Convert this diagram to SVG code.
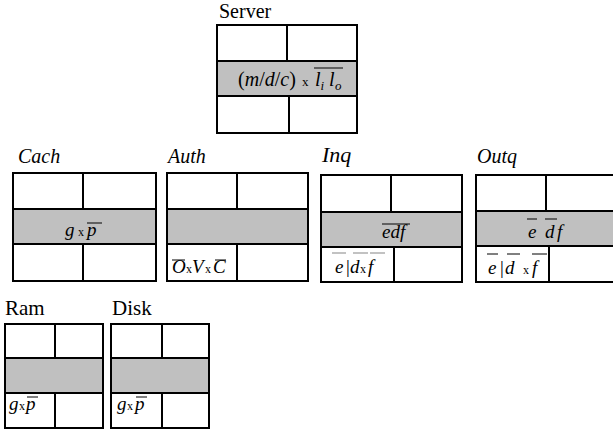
<svg xmlns="http://www.w3.org/2000/svg" width="613" height="434" viewBox="0 0 613 434" font-family="'Liberation Serif', 'Times New Roman', 'DejaVu Serif', serif">
  <style>
    .box { fill: #ffffff; stroke: #000000; stroke-width: 2; }
    .band { fill: #c0c0c0; stroke: #000000; stroke-width: 2; }
    .div { stroke: #000000; stroke-width: 2; }
    .lbl { font-size: 20px; }
    .it { font-style: italic; }
    .f { font-size: 19px; }
    .x { font-size: 12px; }
    .sub { font-size: 13px; font-style: italic; }
    .bar { stroke: #000000; stroke-width: 1; }
    .bar-g { stroke: #9a9a9a; stroke-width: 1.2; }
  </style>

  <!-- Server -->
  <g id="server">
    <text class="lbl" x="219" y="18">Server</text>
    <rect class="box" x="217" y="25" width="140" height="108"/>
    <rect class="band" x="217" y="61" width="140" height="35"/>
    <line class="div" x1="287" y1="25" x2="287" y2="61"/>
    <line class="div" x1="289" y1="96" x2="289" y2="133"/>
    <text class="f" x="238" y="86" style="font-size:20px">(<tspan class="it">m</tspan>/<tspan class="it">d</tspan>/<tspan class="it">c</tspan>)</text>
    <text class="x" x="302" y="86" style="font-size:13px">x</text>
    <text class="f it" x="315" y="86" style="font-size:20px">l</text>
    <text class="sub" x="320.5" y="90">i</text>
    <text class="f it" x="329" y="86" style="font-size:20px">l</text>
    <text class="sub" x="335" y="90">o</text>
    <line class="bar" x1="314" y1="68" x2="343" y2="68"/>
  </g>

  <!-- Cach -->
  <g id="cach">
    <text class="lbl it" x="18" y="163">Cach</text>
    <rect class="box" x="13" y="173" width="143" height="108"/>
    <rect class="band" x="13" y="209" width="143" height="35"/>
    <line class="div" x1="83" y1="173" x2="83" y2="209"/>
    <line class="div" x1="83" y1="244" x2="83" y2="281"/>
    <text class="f it" x="65" y="236">g</text>
    <text class="x" x="78" y="236">x</text>
    <text class="f it" x="87" y="236">p</text>
    <line class="bar" x1="87" y1="223" x2="102" y2="223"/>
  </g>

  <!-- Auth -->
  <g id="auth">
    <text class="lbl it" x="168" y="163">Auth</text>
    <rect class="box" x="167" y="173" width="141" height="108"/>
    <rect class="band" x="167" y="209" width="141" height="35"/>
    <line class="div" x1="237" y1="173" x2="237" y2="209"/>
    <line class="div" x1="237" y1="244" x2="237" y2="281"/>
    <text class="f it" x="172" y="273">O</text>
    <text class="x" x="186" y="273">x</text>
    <text class="f it" x="192" y="273">V</text>
    <text class="x" x="205" y="273">x</text>
    <text class="f it" x="213" y="273">C</text>
    <line class="bar" x1="172" y1="260" x2="185" y2="260"/>
    <line class="bar" x1="215" y1="260" x2="226" y2="260"/>
  </g>

  <!-- Inq -->
  <g id="inq">
    <text class="lbl it" x="322" y="162" style="font-size:22px">Inq</text>
    <rect class="box" x="321" y="175" width="141" height="107"/>
    <rect class="band" x="321" y="212" width="141" height="35"/>
    <line class="div" x1="391" y1="175" x2="391" y2="212"/>
    <line class="div" x1="394" y1="247" x2="394" y2="282"/>
    <text class="f it" x="382" y="238">edf</text>
    <line class="bar" x1="382" y1="224" x2="410" y2="224"/>
    <text class="f it" x="335" y="273">e</text>
    <text class="f" x="346" y="273">|</text>
    <text class="f it" x="350" y="273">d</text>
    <text class="x" x="360" y="273">x</text>
    <text class="f it" x="368" y="273">f</text>
    <line class="bar-g" x1="332" y1="253" x2="346" y2="253"/>
    <line class="bar-g" x1="353" y1="253" x2="368" y2="253"/>
    <line class="bar-g" x1="370" y1="253" x2="385" y2="253"/>
  </g>

  <!-- Outq -->
  <g id="outq">
    <text class="lbl it" x="477" y="163">Outq</text>
    <rect class="box" x="476" y="175" width="140" height="107"/>
    <rect class="band" x="476" y="211" width="140" height="35"/>
    <line class="div" x1="546" y1="175" x2="546" y2="211"/>
    <line class="div" x1="549" y1="246" x2="549" y2="282"/>
    <text class="f it" x="528" y="238">e</text>
    <text class="f it" x="545" y="238">d</text>
    <text class="f it" x="557" y="238">f</text>
    <line class="bar" x1="527" y1="219" x2="537" y2="219"/>
    <line class="bar" x1="545" y1="219" x2="557" y2="219"/>
    <text class="f it" x="488" y="274">e</text>
    <text class="f" x="500" y="274">|</text>
    <text class="f it" x="505" y="274">d</text>
    <text class="x" x="523" y="274">x</text>
    <text class="f it" x="532" y="274">f</text>
    <line class="bar" x1="487" y1="254" x2="498" y2="254"/>
    <line class="bar" x1="507" y1="254" x2="520" y2="254"/>
    <line class="bar" x1="532" y1="254" x2="547" y2="254"/>
  </g>

  <!-- Ram -->
  <g id="ram">
    <text class="lbl" x="5" y="315" style="font-size:21px">Ram</text>
    <rect class="box" x="5" y="324" width="98" height="104"/>
    <rect class="band" x="5" y="358" width="98" height="35"/>
    <line class="div" x1="55" y1="324" x2="55" y2="358"/>
    <line class="div" x1="55" y1="393" x2="55" y2="428"/>
    <text class="f it" x="9" y="410">g</text>
    <text class="x" x="19" y="410">x</text>
    <text class="f it" x="26" y="410">p</text>
    <line class="bar" x1="27" y1="397" x2="38" y2="397"/>
  </g>

  <!-- Disk -->
  <g id="disk">
    <text class="lbl" x="112" y="315" style="font-size:21px">Disk</text>
    <rect class="box" x="111" y="324" width="98" height="104"/>
    <rect class="band" x="111" y="358" width="98" height="35"/>
    <line class="div" x1="162" y1="324" x2="162" y2="358"/>
    <line class="div" x1="162" y1="393" x2="162" y2="428"/>
    <text class="f it" x="117" y="410">g</text>
    <text class="x" x="127" y="410">x</text>
    <text class="f it" x="135" y="410">p</text>
    <line class="bar" x1="136" y1="397" x2="147" y2="397"/>
  </g>

  <!-- no connectors in this diagram -->
  <g id="connectors"/>
</svg>
